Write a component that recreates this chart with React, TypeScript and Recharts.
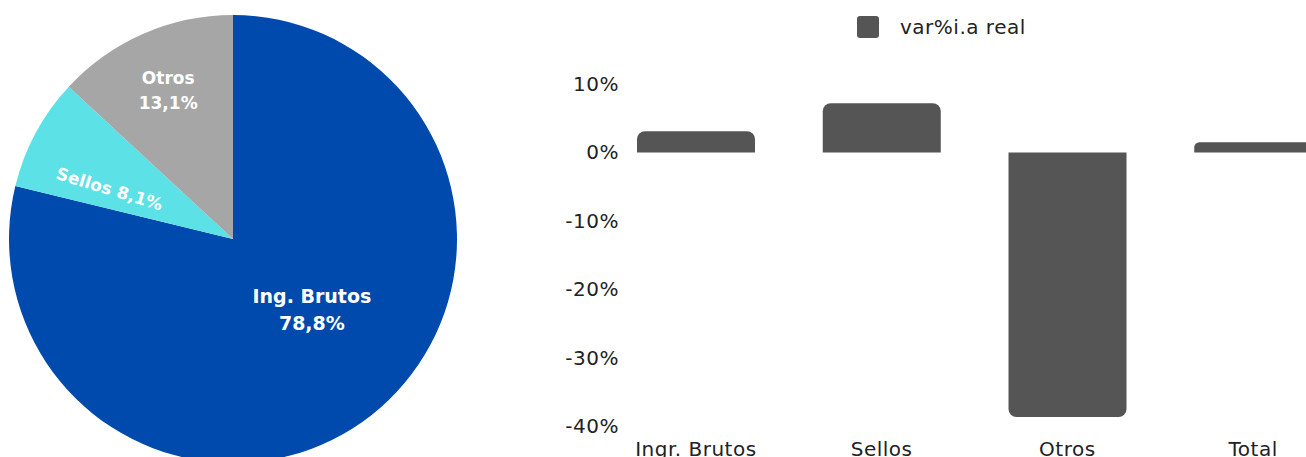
import { PieChart, Pie, Cell, BarChart, Bar, XAxis, YAxis, Legend } from "recharts";

const pieNames = ["Ing. Brutos", "Sellos", "Otros"];
const pieShares = [78.8, 8.1, 13.1];
const pieColors = ["#004AAD", "#5CE1E6", "#A6A6A6"];

const barCategories = ["Ingr. Brutos", "Sellos", "Otros", "Total"];
const barValues = [3.1, 7.2, -38.7, 1.5];
const yTicks = [-40, -30, -20, -10, 0, 10];

const pieData = pieNames.map((name, i) => ({ name, value: pieShares[i], color: pieColors[i] }));
const barData = barCategories.map((name, i) => ({ name, value: barValues[i] }));

const FONT = "'DejaVu Sans', 'Open Sans', sans-serif";
const RAD = Math.PI / 180;

const fmt = (v: number) => v.toFixed(1).replace(".", ",") + "%";

// label placement per slice (radius, nudges, rotation)
const labelTweaks: Record<string, { r: number; dx: number; dy: number; rot: number; size: number }> = {
  "Ing. Brutos": { r: 105, dx: 14, dy: -12, rot: 0, size: 19 },
  Sellos: { r: 131, dx: -8, dy: 12, rot: 17, size: 17 },
  Otros: { r: 162, dx: 0, dy: 0, rot: 0, size: 17 },
};

function PieLabel(props: any) {
  const { cx, cy, midAngle, name, value } = props;
  const t = labelTweaks[name];
  const x = cx + Math.cos(-midAngle * RAD) * t.r + t.dx;
  const y = cy + Math.sin(-midAngle * RAD) * t.r + t.dy;
  const common = {
    fill: "#fff",
    fontFamily: FONT,
    fontWeight: 700,
    fontSize: t.size,
    textAnchor: "middle" as const,
  };
  if (name === "Sellos") {
    return (
      <text {...common} x={x} y={y} dominantBaseline="central" transform={`rotate(${t.rot} ${x} ${y})`}>
        {name} {fmt(value)}
      </text>
    );
  }
  const gap = t.size * 0.72;
  return (
    <text {...common} x={x} y={y}>
      <tspan x={x} y={y - gap} dominantBaseline="central">{name}</tspan>
      <tspan x={x} y={y + gap} dominantBaseline="central">{fmt(value)}</tspan>
    </text>
  );
}

const axisText = { fontFamily: FONT, fontSize: 20, fill: "#222", letterSpacing: 0.5 };

function YTick(props: any) {
  const { y, payload } = props;
  return (
    <text x={79} y={y} textAnchor="end" dominantBaseline="central" {...axisText}>
      {payload.value}%
    </text>
  );
}

function XTick(props: any) {
  const { x, payload } = props;
  return (
    <text x={x} y={449} textAnchor="middle" dominantBaseline="central" {...axisText}>
      {payload.value}
    </text>
  );
}

function LegendContent() {
  return (
    <div style={{ display: "flex", alignItems: "center", fontFamily: FONT, fontSize: 20, letterSpacing: 0.5, color: "#222", height: 22 }}>
      <span style={{ width: 22, height: 22, background: "#555555", borderRadius: 3, display: "inline-block", marginRight: 21 }} />
      <span>var%i.a real</span>
    </div>
  );
}

export default function App() {
  return (
    <div style={{ position: "fixed", left: 0, top: 0, width: 1306, height: 457, overflow: "hidden", background: "#fff" }}>
      <div style={{ position: "absolute", left: 0, top: 0 }}>
        <PieChart width={470} height={480}>
          <Pie
            data={pieData}
            dataKey="value"
            cx={228}
            cy={234}
            outerRadius={224}
            startAngle={90}
            endAngle={-270}
            stroke="none"
            labelLine={false}
            label={PieLabel}
            isAnimationActive={false}
          >
            {pieData.map((d) => (
              <Cell key={d.name} fill={d.color} />
            ))}
          </Pie>
        </PieChart>
      </div>
      <div style={{ position: "absolute", left: 540, top: 0 }}>
        <BarChart width={820} height={480} data={barData} margin={{ top: 62, right: 14, bottom: 24, left: 0 }}>
          <Legend
            verticalAlign="top"
            content={LegendContent}
            wrapperStyle={{ position: "absolute", top: 16, left: 317, width: "auto", height: 22 }}
          />
          <XAxis dataKey="name" axisLine={false} tickLine={false} height={30} tick={XTick} interval={0} />
          <YAxis
            domain={[-40, 10]}
            ticks={yTicks}
            width={63}
            axisLine={false}
            tickLine={false}
            tick={YTick}
            interval={0}
          />
          <Bar dataKey="value" fill="#555555" barSize={118} radius={[8, 8, 0, 0]} isAnimationActive={false} />
        </BarChart>
      </div>
    </div>
  );
}
